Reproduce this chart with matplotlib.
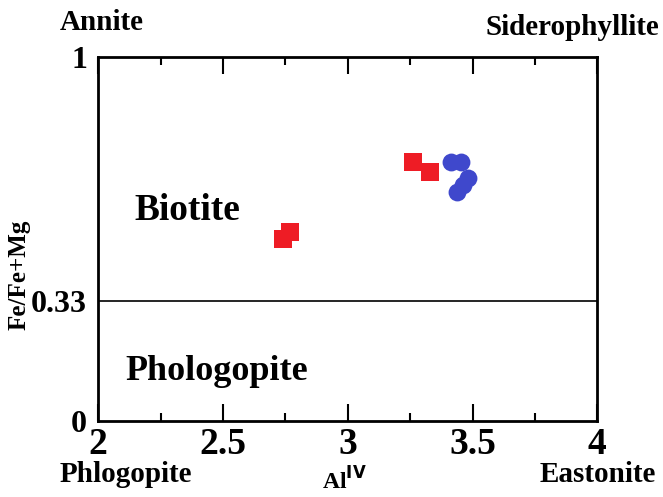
import matplotlib.pyplot as plt
from matplotlib.ticker import MultipleLocator

plt.rcParams['font.family'] = 'Liberation Serif'
plt.rcParams['font.weight'] = 'bold'

# Datos
al_rojo = [3.26, 3.33, 2.74, 2.77]
fe_rojo = [0.713, 0.683, 0.500, 0.519]

al_azul = [3.415, 3.452, 3.482, 3.462, 3.437]
fe_azul = [0.712, 0.712, 0.668, 0.648, 0.630]

limite_biotita = 0.33
yticks = [0, 0.33, 1]
ytick_labels = ['0', '0.33', '1']
xticks = [2, 2.5, 3, 3.5, 4]
xtick_labels = ['2', '2.5', '3', '3.5', '4']

fig = plt.figure(figsize=(6.63, 4.97), dpi=100)
ax = fig.add_axes([0.148, 0.153, 0.753, 0.732])

ax.scatter(al_rojo, fe_rojo, marker='s', s=165, color='#ee1c25', linewidths=0, zorder=3)
ax.scatter(al_azul, fe_azul, marker='o', s=165, color='#3f48cc', linewidths=0, zorder=3)

ax.axhline(limite_biotita, color='black', linewidth=1.2)

ax.set_xlim(2, 4)
ax.set_ylim(0, 1)

ax.set_xticks(xticks)
ax.set_xticklabels(xtick_labels)
ax.xaxis.set_minor_locator(MultipleLocator(0.25))
ax.tick_params(axis='x', which='major', direction='in', length=12, width=1.5,
               top=True, labelsize=27, pad=4)
ax.tick_params(axis='x', which='minor', direction='in', length=6, width=1.5, top=True)

ax.set_yticks(yticks)
ax.set_yticklabels(ytick_labels)
ax.tick_params(axis='y', length=0, labelsize=23, pad=8)

for s in ax.spines.values():
    s.set_linewidth(2)

# Titulos de ejes
fig.text(0.029, 0.447, 'Fe/Fe+Mg', fontsize=18, fontweight='bold',
         rotation=90, ha='center', va='center')
fig.text(0.52, 0.004, r'Al$^{\mathrm{IV}}$', fontsize=17, fontweight='bold',
         ha='center', va='bottom')

# Nombres de los campos y de los extremos
ax.text(2.144, 0.552, 'Biotite', fontsize=27, fontweight='bold')
ax.text(2.11, 0.113, 'Phologopite', fontsize=26, fontweight='bold')

fig.text(0.09, 0.955, 'Annite', fontsize=21, fontweight='bold', va='center')
fig.text(0.995, 0.945, 'Siderophyllite', fontsize=21, fontweight='bold',
         ha='right', va='center')
fig.text(0.09, 0.045, 'Phlogopite', fontsize=21, fontweight='bold', va='center')
fig.text(0.99, 0.045, 'Eastonite', fontsize=21, fontweight='bold',
         ha='right', va='center')

fig.savefig('out.png', dpi=100)
